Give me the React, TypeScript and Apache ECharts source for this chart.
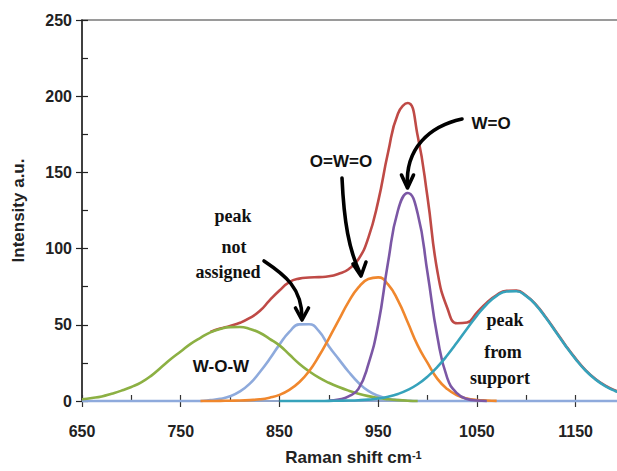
import React, { useEffect, useRef } from 'react';
import * as echarts from 'echarts';

// Raman shift (cm-1) sample positions
const ramanShift = [
  650, 660, 670, 680, 690, 700, 710, 720, 730, 740,
  750, 760, 770, 780, 790, 800, 810, 820, 830, 840,
  850, 860, 870, 880, 890, 900, 910, 920, 930, 940,
  950, 960, 970, 980, 990, 1000, 1010, 1020, 1030, 1040,
  1050, 1060, 1070, 1080, 1090, 1100, 1110, 1120, 1130, 1140,
  1150, 1160, 1170, 1180, 1190, 1200,
];

// Envelope (sum) – red
const envelope = [
  null, null, null, null, null, null, null, null, null, null,
  null, null, null, 45.3, 47.5, 49.2, 51.3, 54.5, 59, 66,
  72.5, 78, 80.3, 81, 81.3, 81.8, 83.5, 86.5, 93, 107,
  131, 163, 188.5, 195.5, 174, 133.5, 85, 61, 51, 51.5,
  58, 64.5, 69.5, 72.3, 72.4, 69.1, 63.1, 54.8, 45.6, 36.3,
  27.8, 20.3, 14.5, 10.1, 6.9, 4.6,
];

// W-O-W – green
const wow = [
  1.2, 2.0, 3.0, 4.8, 6.8, 9.2, 12.2, 16.5, 22, 27.5,
  32.5, 37.5, 41.5, 45, 47.3, 48.5, 48.6, 47.3, 44.8, 40.8,
  36.5, 30.5, 24.5, 19.5, 15.3, 12, 9.2, 6.8, 4.8, 3.2,
  2, 1.2, 0.6, 0.2, 0, null, null, null, null, null,
  null, null, null, null, null, null, null, null, null, null,
  null, null, null, null, null, null,
];

// peak not assigned – light blue
const notAssigned = [
  0, 0, 0, 0, 0, 0, 0, 0, 0, 0,
  0, 0, 0, 0.6, 1.4, 3.1, 6.3, 11.4, 18.9, 27.5,
  37, 45.3, 50.3, 50.4, 45.8, 36, 27.5, 19.2, 12, 6.6,
  3.4, 1.5, 0.6, 0.2, 0, 0, 0, 0, 0, 0,
  0, 0, 0, 0, 0, 0, 0, 0, 0, 0,
  0, 0, 0, 0, 0, 0,
];

// O=W=O – orange
const owo = [
  null, null, null, null, null, null, null, null, null, null,
  null, null, 0, 0, 0.1, 0.2, 0.3, 0.6, 1.1, 2.2,
  4, 7.3, 12.3, 19.5, 29.5, 41, 53, 65, 74.5, 80,
  81.1, 76.5, 66, 51.5, 36.5, 25, 14.5, 7.8, 3.8, 1.6,
  0.7, 0.3, 0.1, null, null, null, null, null, null, null,
  null, null, null, null, null, null,
];

// W=O – purple
const wo = [
  null, null, null, null, null, null, null, null, null, null,
  null, null, null, null, null, null, null, null, null, null,
  null, null, null, null, null, 0.3, 1, 3, 8, 24,
  50, 91, 125, 136.5, 123, 84, 42, 15, 5, 1.3,
  0.3, 0, null, null, null, null, null, null, null, null,
  null, null, null, null, null, null,
];

// peak from support – teal
const support = [
  null, null, null, null, null, null, null, null, null, null,
  null, null, null, null, null, null, null, null, null, null,
  0, 0, 0, 0, 0, 0.1, 0.2, 0.3, 0.5, 0.9,
  1.6, 2.8, 4.6, 7.3, 11, 16, 22.4, 30, 38.5, 47.4,
  56, 63.5, 69, 71.9, 72, 68.8, 62.8, 54.5, 45.3, 36,
  27.5, 20, 14.2, 9.8, 6.6, 4.3,
];

const SANS = '"Liberation Sans", Arial, sans-serif';
const SERIF = '"Liberation Serif", "Times New Roman", serif';

function pairs(values: (number | null)[]) {
  const out: [number, number][] = [];
  ramanShift.forEach((x, i) => {
    const v = values[i];
    if (v !== null && v !== undefined) out.push([x, v]);
  });
  return out;
}

function lineSeries(name: string, values: (number | null)[], color: string) {
  return {
    name,
    type: 'line',
    data: pairs(values),
    smooth: 0.5,
    showSymbol: false,
    symbol: 'none',
    clip: false,
    lineStyle: { color, width: 2.6 },
    itemStyle: { color },
  };
}

function arrow(
  start: [number, number],
  c1: [number, number],
  c2: [number, number],
  end: [number, number],
  headA: [number, number],
  tip: [number, number],
  headB: [number, number]
) {
  return [
    {
      type: 'bezierCurve',
      shape: {
        x1: start[0], y1: start[1],
        cpx1: c1[0], cpy1: c1[1],
        cpx2: c2[0], cpy2: c2[1],
        x2: end[0], y2: end[1],
      },
      style: { stroke: '#000', lineWidth: 3.6, fill: null, lineCap: 'round' },
      z: 100,
    },
    {
      type: 'polyline',
      shape: { points: [headA, tip, headB] },
      style: { stroke: '#000', lineWidth: 3.6, fill: null, lineCap: 'round', lineJoin: 'round' },
      z: 100,
    },
  ];
}

function label(text: string, x: number, y: number, font: string) {
  return {
    type: 'text',
    x,
    y,
    z: 100,
    style: {
      text,
      font,
      fill: '#111',
      align: 'center',
      verticalAlign: 'middle',
    },
  };
}

export default function App() {
  const ref = useRef<HTMLDivElement>(null);

  useEffect(() => {
    document.body.style.margin = '0';
    if (!ref.current) return;
    const chart = echarts.init(ref.current, undefined, { renderer: 'svg' });
    const axisLabelStyle = {
      fontSize: 16,
      fontWeight: 'bold',
      color: '#222',
      fontFamily: SANS,
    };
    const sansBold = `bold 17px ${SANS}`;
    const serifBold = `bold 18px ${SERIF}`;

    chart.setOption({
      animation: false,
      backgroundColor: '#fff',
      grid: {
        left: 82,
        top: 20,
        right: 15,
        bottom: 64,
        show: true,
        borderColor: '#7a7a7a',
        borderWidth: 1.5,
      },
      xAxis: [
        {
          type: 'value',
          min: 650,
          max: 1200,
          interval: 100,
          axisLine: { show: true, onZero: false, lineStyle: { color: '#8faadc', width: 1.5 } },
          axisTick: { show: true, length: 6, lineStyle: { color: '#333', width: 1.2 } },
          axisLabel: {
            ...axisLabelStyle,
            margin: 22,
            showMaxLabel: false,
            formatter: (v: number) => String(v),
          },
          splitLine: { show: false },
          name: '{a|Raman shift cm}{b|-1}',
          nameLocation: 'middle',
          nameGap: 48,
          nameTextStyle: {
            rich: {
              a: { fontSize: 17, fontWeight: 'bold', color: '#222', fontFamily: SANS },
              b: { fontSize: 11, fontWeight: 'bold', color: '#222', fontFamily: SANS, verticalAlign: 'top' },
            },
          },
        },
        {
          type: 'value',
          min: 650,
          max: 1200,
          interval: 50,
          position: 'bottom',
          axisLine: { show: false },
          axisTick: { show: true, inside: true, length: 6, lineStyle: { color: '#333', width: 1.2 } },
          axisLabel: { show: false },
          splitLine: { show: false },
        },
      ],
      yAxis: [
        {
          type: 'value',
          min: 0,
          max: 250,
          interval: 50,
          axisLine: { show: true, lineStyle: { color: '#222', width: 1.5 } },
          axisTick: { show: true, length: 6, lineStyle: { color: '#222', width: 1.2 } },
          axisLabel: { ...axisLabelStyle, margin: 10, formatter: (v: number) => String(v) },
          splitLine: { show: false },
          name: 'Intensity a.u.',
          nameLocation: 'middle',
          nameGap: 55,
          nameTextStyle: { fontSize: 17, fontWeight: 'bold', color: '#222', fontFamily: SANS },
        },
        {
          type: 'value',
          min: 0,
          max: 250,
          interval: 25,
          position: 'left',
          axisLine: { show: false },
          axisTick: { show: true, inside: true, length: 6, lineStyle: { color: '#222', width: 1.2 } },
          axisLabel: { show: false },
          splitLine: { show: false },
        },
      ],
      series: [
        lineSeries('Sum', envelope, '#bf4a46'),
        lineSeries('peak not assigned', notAssigned, '#8eaadc'),
        lineSeries('W-O-W', wow, '#8cb043'),
        lineSeries('O=W=O', owo, '#f0872d'),
        lineSeries('W=O', wo, '#7b57a5'),
        lineSeries('peak from support', support, '#36a2bb'),
      ],
      graphic: [
        label('W-O-W', 221, 366.5, sansBold),
        label('O=W=O', 341, 161.5, sansBold),
        label('W=O', 491, 123, sansBold),
        label('peak', 233, 215.5, serifBold),
        label('not', 234, 247, serifBold),
        label('assigned', 228, 271.5, serifBold),
        label('peak', 505, 320, serifBold),
        label('from', 503, 352, serifBold),
        label('support', 500, 378, serifBold),
        ...arrow([264, 261], [285, 275], [302, 288], [302, 318], [295.5, 308], [302, 320], [308.5, 308]),
        ...arrow([342, 178], [344, 222], [349, 250], [360, 273], [353, 264], [361, 276], [366, 262]),
        ...arrow([462, 119], [430, 126], [405, 148], [407.5, 186], [401.5, 175], [407.5, 188], [413.5, 175]),
      ],
    });
    return () => chart.dispose();
  }, []);

  return (
    <div style={{ width: 617, height: 471, overflow: 'hidden', position: 'relative' }}>
      <div ref={ref} style={{ width: 640, height: 471 }} />
    </div>
  );
}
